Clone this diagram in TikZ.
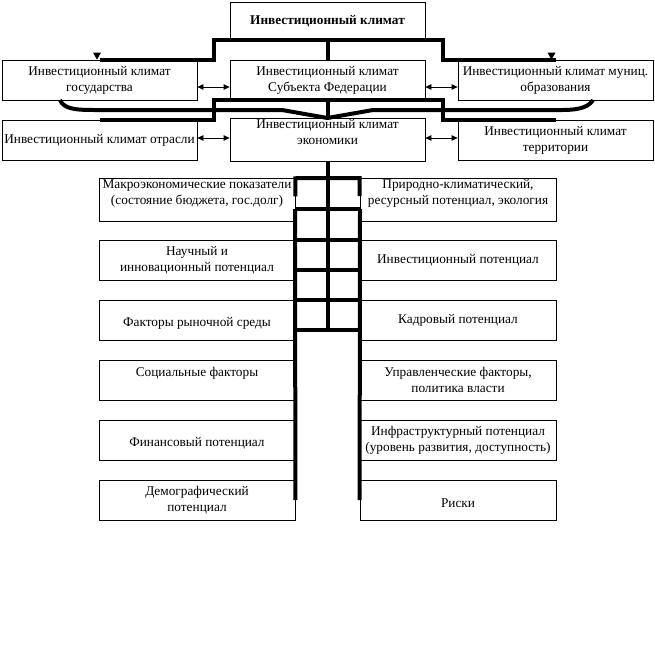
\documentclass[tikz,border=0pt]{standalone}
\usepackage{fontspec}
\setmainfont{Liberation Serif}
\usetikzlibrary{arrows.meta}

\begin{document}
\begin{tikzpicture}[
        x=1pt, y=-1pt,
        box/.style={draw, line width=0.8pt, minimum width=195pt, minimum height=40pt,
            inner sep=1pt, align=center},
        colbox/.style={box, minimum width=196pt},
        fat/.style={line width=4pt},
        dbl/.style={line width=0.8pt, {Triangle[length=6pt,width=5.5pt]}-{Triangle[length=6pt,width=5.5pt]}},
        every node/.style={font=\fontsize{13.3}{16}\selectfont},
    ]
    \useasboundingbox (0,0) rectangle (655,654);
    % levels of the climate
    \node[box, minimum height=38pt, font=\fontsize{13.3}{16}\selectfont\bfseries] (top) at (327.5,21) {Инвестиционный климат};
    \node[box] (gos) at (99.5,80) {Инвестиционный климат\\государства};
    \node[box] (fed) at (327.5,80) {Инвестиционный климат\\Субъекта Федерации};
    \node[box] (mun) at (555.5,80) {Инвестиционный климат муниц.\\образования};
    \node[box] (otr) at (99.5,140) {Инвестиционный климат отрасли};
    \node[box] (econ) at (327.5,140) {Инвестиционный климат\\экономики\\~};
    \node[box] (ter) at (555.5,140) {Инвестиционный климат\\территории};
    % factors
    \node[colbox] (makro) at (197,200) {Макроэкономические показатели\\(состояние бюджета, гос.долг)\\~};
    \node[colbox] (prir) at (458,200) {Природно-климатический,\\ресурсный потенциал, экология\\~};
    \node[colbox] (nauch) at (197,260) {Научный и\\инновационный потенциал};
    \node[colbox] (invest) at (458,260) {Инвестиционный потенциал};
    \node[colbox] (rynok) at (197,320) {~\\Факторы рыночной среды};
    \node[colbox] (kadr) at (458,320) {Кадровый потенциал};
    \node[colbox] (soc) at (197,380) {Социальные факторы\\~};
    \node[colbox] (uprav) at (458,380) {Управленческие факторы,\\политика власти};
    \node[colbox] (fin) at (197,440) {~\\Финансовый потенциал};
    \node[colbox] (infra) at (458,440) {Инфраструктурный потенциал\\(уровень развития, доступность)};
    \node[colbox] (demo) at (197,500) {Демографический\\потенциал};
    \node[colbox] (risk) at (458,500) {~\\Риски};

    % top connectors
    \draw[fat] (top.south) -- ++(-114,0) |- (gos.north);
    \draw[fat] (top.south) -- ++(115,0) |- (mun.north);
    \draw[fat] (top.south) -- (fed.north);
    \fill ([xshift=-2.5pt]gos.north) -- ++(-4,-7) -- ++(8,0) -- cycle;
    \fill ([xshift=-4pt]mun.north) -- ++(-4,-7) -- ++(8,0) -- cycle;
    \draw[dbl] ([yshift=-7pt]gos.east) -- ([yshift=-7pt]fed.west);
    \draw[dbl] ([yshift=-7pt]fed.east) -- ([yshift=-7pt]mun.west);

    % second level
    \coordinate (tip) at (327.5,118);
    \draw[fat] (fed.south) -- ++(-114,0) |- (otr.north);
    \draw[fat] (fed.south) -- ++(115,0) |- (ter.north);
    \draw[fat] (fed.south) -- (tip);
    \draw[fat] (60,100) .. controls (64,109) and (75,110) .. (95,110) -- (282,110)
        -- (tip) -- (373,110) -- (562,110) .. controls (582,110) and (589,106) .. (593,100);
    \draw[dbl] ([yshift=2pt]otr.east) -- ([yshift=2pt]econ.west);
    \draw[dbl] ([yshift=2pt]econ.east) -- ([yshift=2pt]ter.west);

    % ladder
    \draw[fat] (makro.north east) ++(0,18) -- (makro.north east) -- (prir.north west) -- ++(0,18);
    \draw[fat] (econ.south) -- (327.5,330);
    \draw[fat] (295,209) -- (demo.east);
    \draw[fat] (360,209) -- (risk.west);
    \foreach \y in {209,240,270,300,330}
        \draw[fat] (295,\y) -- (360,\y);
\end{tikzpicture}
\end{document}
